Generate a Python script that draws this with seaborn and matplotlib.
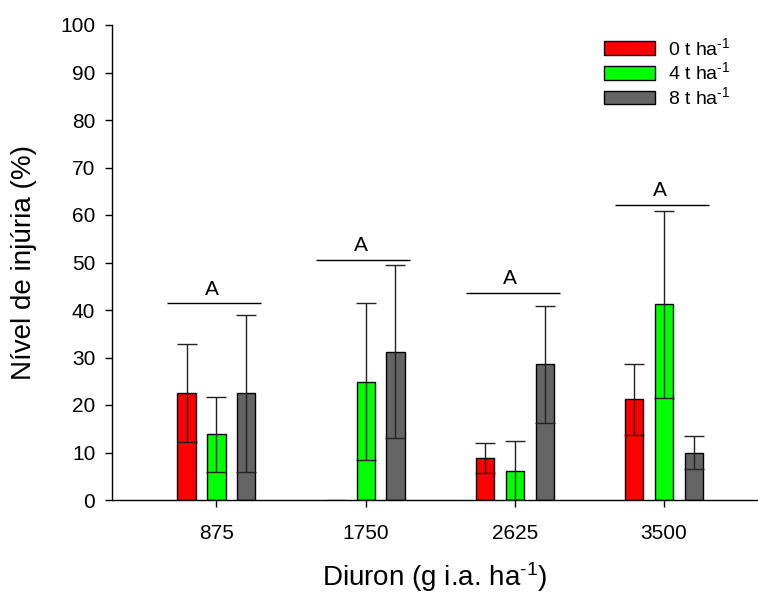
import numpy as np
import pandas as pd
import matplotlib
matplotlib.use('Agg')
import matplotlib.pyplot as plt
import seaborn as sns

# dados
doses_diuron = ['875', '1750', '2625', '3500']
palha = ['0 t ha$^{\\text{-1}}$', '4 t ha$^{\\text{-1}}$', '8 t ha$^{\\text{-1}}$']
injuria_0t = [22.5, 0.0, 8.8, 21.2]
injuria_4t = [13.8, 24.9, 6.2, 41.2]
injuria_8t = [22.5, 31.2, 28.6, 10.0]
erro_0t = [10.3, 0.0, 3.2, 7.5]
erro_4t = [7.9, 16.5, 6.2, 19.7]
erro_8t = [16.5, 18.2, 12.3, 3.5]
letras = ['A', 'A', 'A', 'A']
altura_linha = [41.4, 50.5, 43.6, 62.1]
cores = ['#ff0000', '#00ff00', '#646464']

valores = [injuria_0t, injuria_4t, injuria_8t]
erros = [erro_0t, erro_4t, erro_8t]
rows = []
for p, vals in zip(palha, valores):
    for d, v in zip(doses_diuron, vals):
        rows.append({'dose': d, 'palha': p, 'injuria': v})
df = pd.DataFrame(rows)

sns.set_style('ticks')
plt.rcParams['font.family'] = ['Liberation Sans', 'DejaVu Sans']
plt.rcParams['mathtext.fontset'] = 'custom'
plt.rcParams['mathtext.rm'] = 'Liberation Sans'
plt.rcParams['mathtext.it'] = 'Liberation Sans:italic'
plt.rcParams['mathtext.default'] = 'rm'
plt.rcParams['text.color'] = 'black'
plt.rcParams['axes.labelcolor'] = 'black'
plt.rcParams['xtick.color'] = 'black'
plt.rcParams['ytick.color'] = 'black'

fig = plt.figure(figsize=(7.58, 5.93), dpi=100)
ax = fig.add_axes([112 / 758, 1 - 500 / 593, 646 / 758, 475 / 593])

sns.barplot(data=df, x='dose', y='injuria', hue='palha', order=doses_diuron,
            hue_order=palha, palette=cores, width=0.6, gap=0.39,
            errorbar=None, edgecolor='black', linewidth=1, saturation=1, ax=ax)

for cont, errs in zip(ax.containers, erros):
    for bar, e in zip(cont, errs):
        if e <= 0:
            continue
        xc = bar.get_x() + bar.get_width() / 2
        ax.errorbar(xc, bar.get_height(), yerr=e, fmt='none', ecolor='#222222',
                    elinewidth=1, capsize=7, capthick=1, zorder=5)

xt = ax.get_xticks()
for x, y, l in zip(xt, altura_linha, letras):
    ax.hlines(y, x - 0.33, x + 0.3, color='black', linewidth=1)
    ax.text(x - 0.03, y + 1.0, l, ha='center', va='bottom', fontsize=15)

ax.set_ylim(0, 100)
ax.set_yticks(np.arange(0, 101, 10))
ax.set_xlim(-0.7, 3.63)
ax.set_xlabel('Diuron (g i.a. ha$^{\\text{-1}}$)', fontsize=20, labelpad=13)
ax.set_ylabel('Nível de injúria (%)', fontsize=20, labelpad=17)
ax.tick_params(axis='both', labelsize=15, length=5, width=1, pad=7)
ax.tick_params(axis='x', pad=12)
sns.despine(ax=ax)
for s in ['left', 'bottom']:
    ax.spines[s].set_linewidth(1)
    ax.spines[s].set_color('black')

ax.legend(loc='upper left', bbox_to_anchor=(0.762, 0.975), frameon=False,
          fontsize=14, borderpad=0, borderaxespad=0, handlelength=2.6,
          handletextpad=0.7, labelspacing=0.15)

fig.savefig('out.png', dpi=100)
